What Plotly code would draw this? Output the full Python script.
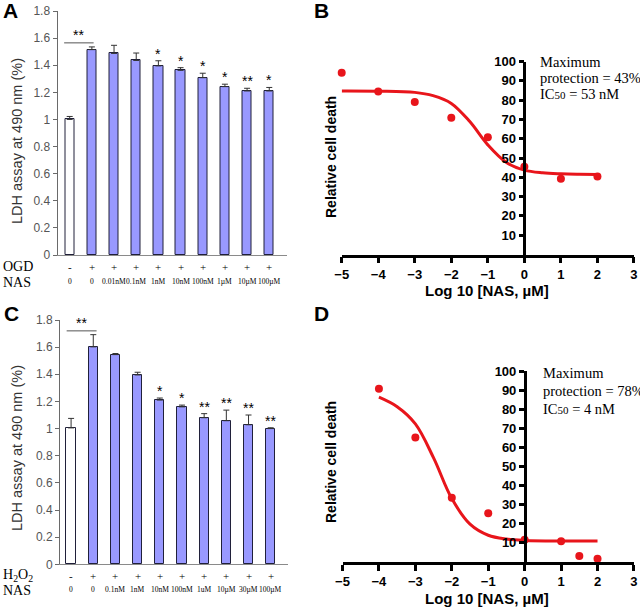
import plotly.graph_objects as go

W, H = 640, 609
def px(x): return x / W
def py(y): return 1 - y / H

SANS = "Liberation Sans, Arial, sans-serif"
SERIF = "Liberation Serif, Times New Roman, serif"
BLUE = "#9999ff"
RED = "#e8151b"

# ---------------- data ----------------
# Panel A (OGD)
a_pos = list(range(10))
a_row1 = ["-", "+", "+", "+", "+", "+", "+", "+", "+", "+"]
a_row2 = ["0", "0", "0.01nM", "0.1nM", "1nM", "10nM", "100nM", "1µM", "10µM", "100µM"]
a_vals = [1.00, 1.515, 1.487, 1.435, 1.395, 1.362, 1.308, 1.242, 1.210, 1.210]
a_err = [0.022, 0.020, 0.060, 0.055, 0.038, 0.020, 0.033, 0.018, 0.020, 0.026]
a_stars = ["", "", "", "", "*", "*", "*", "*", "**", "*"]

# Panel C (H2O2)
c_pos = list(range(10))
c_row1 = ["-", "+", "+", "+", "+", "+", "+", "+", "+", "+"]
c_row2 = ["0", "0", "0.1nM", "1nM", "10nM", "100nM", "1uM", "10µM", "30µM", "100µM"]
c_vals = [1.005, 1.602, 1.545, 1.395, 1.210, 1.160, 1.080, 1.058, 1.028, 1.000]
c_err = [0.070, 0.090, 0.008, 0.020, 0.015, 0.013, 0.030, 0.078, 0.072, 0.006]
c_stars = ["", "", "", "", "*", "*", "**", "**", "**", "**"]

bar_ticks = [0, 0.2, 0.4, 0.6, 0.8, 1.0, 1.2, 1.4, 1.6, 1.8]
bar_ticktext = ["0", "0.2", "0.4", "0.6", "0.8", "1", "1.2", "1.4", "1.6", "1.8"]

# Panel B dose-response
b_x = [-5, -4, -3, -2, -1, 0, 1, 2]
b_y = [94.2, 84.5, 79.0, 70.8, 60.8, 45.5, 39.2, 40.4]
b_fit_x = [-5, -4, -3, -2.5, -2, -1.5, -1, -0.5, 0, 0.5, 1, 1.5, 2]
b_fit_y = [84.7, 84.6, 84.0, 82.3, 78.3, 69.0, 56.8, 47.8, 43.7, 42.3, 41.8, 41.6, 41.5]

# Panel D dose-response
d_x = [-4, -3, -2, -1, 0, 1, 1.5, 2]
d_y = [90.7, 65.2, 33.6, 25.5, 11.7, 10.8, 3.1, 1.7]
d_fit_x = [-4, -3.5, -3, -2.5, -2, -1.5, -1, -0.5, 0, 1, 2]
d_fit_y = [86.3, 81.3, 72.3, 54.5, 33.2, 19.8, 14.0, 12.0, 11.3, 11.0, 11.0]

curve_xticks = [-5, -4, -3, -2, -1, 0, 1, 2, 3]
curve_yticks = [10, 20, 30, 40, 50, 60, 70, 80, 90, 100]

fig = go.Figure()

# ---------------- bar panels ----------------
def add_bars(xs, vals, errs, xa, ya):
    colors = ["white"] + [BLUE] * (len(vals) - 1)
    fig.add_trace(go.Bar(
        x=xs, y=vals, width=0.42, xaxis=xa, yaxis=ya,
        marker=dict(color=colors, line=dict(color="#20203a", width=1)),
        error_y=dict(type="data", symmetric=False, array=errs,
                     arrayminus=[0] * len(errs), color="#333333",
                     thickness=1, width=3),
        showlegend=False, hoverinfo="skip"))

add_bars(a_pos, a_vals, a_err, "x", "y")
add_bars(c_pos, c_vals, c_err, "x3", "y3")

# ---------------- curve panels ----------------
def add_curve(xs, ys, fx, fy, xa, ya):
    fig.add_trace(go.Scatter(x=fx, y=fy, mode="lines", xaxis=xa, yaxis=ya,
                             line=dict(color=RED, width=3, shape="spline"),
                             showlegend=False, hoverinfo="skip", cliponaxis=False))
    fig.add_trace(go.Scatter(x=xs, y=ys, mode="markers", xaxis=xa, yaxis=ya,
                             marker=dict(color=RED, size=8),
                             showlegend=False, hoverinfo="skip", cliponaxis=False))

add_curve(b_x, b_y, b_fit_x, b_fit_y, "x2", "y2")
add_curve(d_x, d_y, d_fit_x, d_fit_y, "x4", "y4")

# ---------------- axes ----------------
bar_x_common = dict(showgrid=False, zeroline=False, showline=True, linecolor="#8a8a8a",
                    linewidth=1, showticklabels=False, ticks="", fixedrange=True)
bar_y_common = dict(showgrid=False, zeroline=False, showline=True, linecolor="#6a6a6a",
                    linewidth=1, ticks="outside", ticklen=4, tickcolor="#6a6a6a",
                    tickvals=bar_ticks, ticktext=bar_ticktext, range=[0, 1.8],
                    tickfont=dict(family=SANS, size=12, color="#555555"))

curve_x_common = dict(showgrid=False, zeroline=False, showline=True, linecolor="black",
                      linewidth=2.5, ticks="outside", ticklen=6, tickwidth=2.5,
                      tickcolor="black", range=[-5, 3.001], tickvals=curve_xticks,
                      tickfont=dict(family=SANS, size=13, color="black", weight="bold"))
curve_y_common = dict(showgrid=False, zeroline=False, showline=True, linecolor="black",
                      linewidth=2.5, ticks="outside", ticklen=5, tickwidth=2.5,
                      tickcolor="black", range=[0, 100], tickvals=curve_yticks,
                      tickfont=dict(family=SANS, size=13, color="black", weight="bold"),
                      anchor="free")

fig.update_layout(
    xaxis=dict(bar_x_common, domain=[px(57.5), px(287)], range=[-0.55, 9.8], anchor="y"),
    yaxis=dict(bar_y_common, domain=[py(255), py(11)], anchor="x"),
    xaxis3=dict(bar_x_common, domain=[px(60), px(288)], range=[-0.5, 9.78], anchor="y3"),
    yaxis3=dict(bar_y_common, domain=[py(564.3), py(320)], anchor="x3"),
    xaxis2=dict(curve_x_common, domain=[px(341.7), px(634)], anchor="y2"),
    yaxis2=dict(curve_y_common, domain=[py(254.5), py(61.5)], position=px(524.3)),
    xaxis4=dict(curve_x_common, domain=[px(342.5), px(634)], anchor="y4"),
    yaxis4=dict(curve_y_common, domain=[py(562), py(371)], position=px(524.7)),
)

ann = []
shapes = []

# bar category rows and stars
def bar_text(xs, row1, row2, vals, errs, stars, xa, ya, y1, y2):
    for i, x in enumerate(xs):
        ann.append(dict(x=x, y=py(y1), xref=xa, yref="paper", text=row1[i], showarrow=False,
                        font=dict(family=SERIF, size=11, color="black"), yanchor="middle"))
        ann.append(dict(x=x, y=py(y2), xref=xa, yref="paper", text=row2[i], showarrow=False,
                        font=dict(family=SERIF, size=7.5, color="black"), yanchor="middle"))
        if stars[i]:
            ann.append(dict(x=x, y=vals[i] + errs[i], xref=xa, yref=ya, text=stars[i],
                            showarrow=False, yanchor="bottom", yshift=-3,
                            font=dict(family=SANS, size=14, color="black")))

bar_text(a_pos, a_row1, a_row2, a_vals, a_err, a_stars, "x", "y", 267, 281)
bar_text(c_pos, c_row1, c_row2, c_vals, c_err, c_stars, "x3", "y3", 576, 589)

# significance brackets
shapes.append(dict(type="line", xref="x", yref="y", x0=-0.25, x1=1.08, y0=1.565, y1=1.565,
                   line=dict(color="#555555", width=1)))
ann.append(dict(x=0.4, y=1.565, xref="x", yref="y", text="**", showarrow=False,
                yanchor="bottom", yshift=-2, font=dict(family=SANS, size=14, color="black")))
shapes.append(dict(type="line", xref="x3", yref="y3", x0=-0.2, x1=1.15, y0=1.72, y1=1.72,
                   line=dict(color="#555555", width=1)))
ann.append(dict(x=0.45, y=1.72, xref="x3", yref="y3", text="**", showarrow=False,
                yanchor="bottom", yshift=-2, font=dict(family=SANS, size=14, color="black")))

# row labels
for txt, yy in [("OGD", 266), ("NAS", 282)]:
    ann.append(dict(x=px(1), y=py(yy), xref="paper", yref="paper", text=txt, showarrow=False,
                    xanchor="left", yanchor="middle", font=dict(family=SERIF, size=14, color="black")))
for txt, yy in [("H<sub>2</sub>O<sub>2</sub>", 575.5), ("NAS", 590)]:
    ann.append(dict(x=px(1), y=py(yy), xref="paper", yref="paper", text=txt, showarrow=False,
                    xanchor="left", yanchor="middle", font=dict(family=SERIF, size=14, color="black")))

# axis titles
for yc in (141, 448):
    ann.append(dict(x=px(17), y=py(yc), xref="paper", yref="paper",
                    text="LDH assay at 490 nm (%)", textangle=-90, showarrow=False,
                    xanchor="center", yanchor="middle",
                    font=dict(family=SANS, size=14.5, color="#333333")))
for yc in (157, 462):
    ann.append(dict(x=px(331), y=py(yc), xref="paper", yref="paper",
                    text="<b>Relative cell death</b>", textangle=-90, showarrow=False,
                    xanchor="center", yanchor="middle",
                    font=dict(family=SANS, size=14, color="black")))
for yc in (290, 598):
    ann.append(dict(x=px(487), y=py(yc), xref="paper", yref="paper",
                    text="<b>Log 10 [NAS, µM]</b>", showarrow=False,
                    xanchor="center", yanchor="middle",
                    font=dict(family=SANS, size=15, color="black")))

# fit result text
def fit_text(x0, ys, pct, ic):
    lines = ["Maximum", f"protection = {pct}", f"IC<span style='font-size:11px'>50</span> = {ic}"]
    for t, yy in zip(lines, ys):
        ann.append(dict(x=px(x0), y=py(yy), xref="paper", yref="paper", text=t, showarrow=False,
                        xanchor="left", yanchor="middle",
                        font=dict(family=SERIF, size=14.5, color="black")))

fit_text(538, [62, 78, 94.5], "43%", "53 nM")
fit_text(540.5, [373, 391, 409], "78%", "4 nM")

# panel letters
for letter, xx, yy in [("A", 1, 11), ("B", 312, 11), ("C", 2, 313), ("D", 312, 313)]:
    ann.append(dict(x=px(xx), y=py(yy), xref="paper", yref="paper", text=f"<b>{letter}</b>",
                    showarrow=False, xanchor="left", yanchor="middle",
                    font=dict(family=SANS, size=21, color="black")))

fig.update_layout(
    width=W, height=H, margin=dict(l=0, r=0, t=0, b=0),
    paper_bgcolor="white", plot_bgcolor="white", template="none",
    annotations=ann, shapes=shapes, showlegend=False, bargap=0,
)

fig.write_html("out.html", config={"displayModeBar": False},
               post_script="document.body.style.margin='0px';document.body.style.overflow='hidden';")
